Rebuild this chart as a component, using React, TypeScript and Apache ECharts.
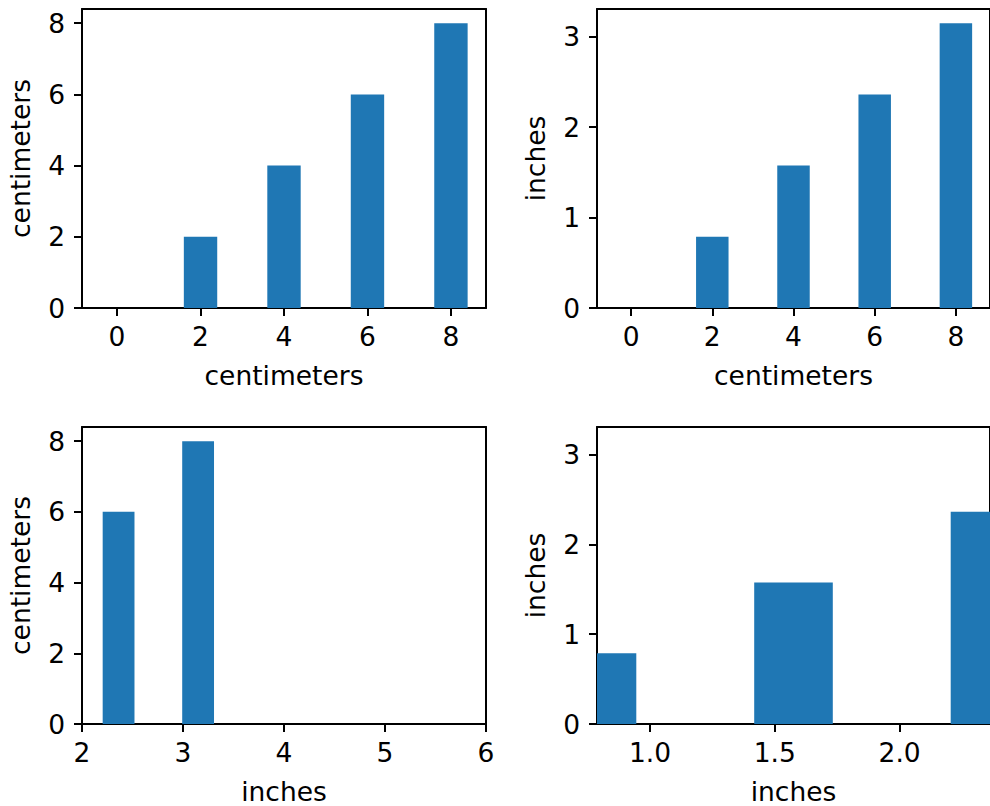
import React, { useEffect, useRef } from "react";
import * as echarts from "echarts";

// Data (in centimeters)
const CM_PER_INCH = 2.54;
const barCentersCm = [0, 2, 4, 6, 8];
const barHeightsCm = [0, 2, 4, 6, 8];
const barWidthCm = 0.8;

// Tick labels
const cmTicks = [0, 2, 4, 6, 8];
const inchYTicks = [0, 1, 2, 3];
const inchXTicksBL = [2, 3, 4, 5, 6];
const inchXTicksBR = [1.0, 1.5, 2.0];

const BLUE = "#1f77b4";
const FONT = "DejaVu Sans";
const FS = 26.5;
const TICK_LEN = 8;

type Unit = "cm" | "inch";
const conv = (v: number, u: Unit) => (u === "cm" ? v : v / CM_PER_INCH);

// matplotlib-like autoscale with 5% margins
function autoX(u: Unit) {
  const lo = Math.min(...barCentersCm.map((c) => c - barWidthCm / 2));
  const hi = Math.max(...barCentersCm.map((c) => c + barWidthCm / 2));
  const m = (hi - lo) * 0.05;
  return [conv(lo - m, u), conv(hi + m, u)];
}
function autoYMax(u: Unit) {
  const hi = Math.max(...barHeightsCm);
  return conv(hi * 1.05, u);
}

interface Panel {
  left: number;
  top: number;
  xUnit: Unit;
  yUnit: Unit;
  xMin: number;
  xMax: number;
  xTicks: number[];
  yTicks: number[];
  xFmt: (v: number) => string;
}

const panels: Panel[] = [
  {
    left: 82, top: 9, xUnit: "cm", yUnit: "cm",
    xMin: autoX("cm")[0], xMax: autoX("cm")[1],
    xTicks: cmTicks, yTicks: cmTicks, xFmt: (v) => String(v),
  },
  {
    left: 597, top: 9, xUnit: "cm", yUnit: "inch",
    xMin: autoX("cm")[0], xMax: autoX("cm")[1],
    xTicks: cmTicks, yTicks: inchYTicks, xFmt: (v) => String(v),
  },
  {
    left: 82, top: 427, xUnit: "inch", yUnit: "cm",
    xMin: 2, xMax: 6,
    xTicks: inchXTicksBL, yTicks: cmTicks, xFmt: (v) => String(v),
  },
  {
    left: 597, top: 427, xUnit: "inch", yUnit: "inch",
    xMin: conv(2, "inch"), xMax: conv(6, "inch"),
    xTicks: inchXTicksBR, yTicks: inchYTicks, xFmt: (v) => v.toFixed(1),
  },
];

const unitName = (u: Unit) => (u === "cm" ? "centimeters" : "inches");

export default function App() {
  const ref = useRef<HTMLDivElement>(null);
  useEffect(() => {
    if (!ref.current) return;
    const chart = echarts.init(ref.current, undefined, { renderer: "svg" });
    const textStyle = { color: "#000", fontFamily: FONT, fontSize: FS };
    const line = { show: true, onZero: false, lineStyle: { color: "#000", width: 2 } };
    const tickStyle = { color: "#000", width: 2 };
    const grid = panels.map((p) => ({
      left: p.left,
      top: p.top,
      width: 404,
      height: 299,
      show: false,
    }));
    const xAxis: any[] = [];
    const yAxis: any[] = [];
    panels.forEach((p, i) => {
      xAxis.push({
        type: "value",
        gridIndex: i,
        position: "bottom",
        min: p.xMin,
        max: p.xMax,
        name: unitName(p.xUnit),
        nameLocation: "middle",
        nameGap: 54,
        nameMoveOverlap: false,
        nameTextStyle: textStyle,
        axisLine: line,
        splitLine: { show: false },
        axisTick: { show: true, length: TICK_LEN, customValues: p.xTicks, lineStyle: tickStyle },
        axisLabel: {
          ...textStyle,
          margin: 15,
          customValues: p.xTicks,
          formatter: (v: number) => p.xFmt(v),
        },
      });
      yAxis.push({
        type: "value",
        gridIndex: i,
        position: "left",
        min: 0,
        max: autoYMax(p.yUnit),
        name: unitName(p.yUnit),
        nameLocation: "middle",
        nameGap: 48,
        nameMoveOverlap: false,
        nameTextStyle: textStyle,
        axisLine: line,
        splitLine: { show: false },
        axisTick: { show: true, length: TICK_LEN, customValues: p.yTicks, lineStyle: tickStyle },
        axisLabel: {
          ...textStyle,
          margin: 17,
          customValues: p.yTicks,
          formatter: (v: number) => String(v),
        },
      });
    });
    // frame: top and right spines
    panels.forEach((p, i) => {
      xAxis.push({
        type: "value", gridIndex: i, position: "top", min: p.xMin, max: p.xMax,
        axisLine: line, axisTick: { show: false }, axisLabel: { show: false },
        splitLine: { show: false },
      });
      yAxis.push({
        type: "value", gridIndex: i, position: "right", min: 0, max: autoYMax(p.yUnit),
        axisLine: line, axisTick: { show: false }, axisLabel: { show: false },
        splitLine: { show: false },
      });
    });
    const series = panels.map((p, i) => ({
      type: "custom",
      xAxisIndex: i,
      yAxisIndex: i,
      data: barCentersCm.map((c, k) => [
        conv(c, p.xUnit),
        conv(barHeightsCm[k], p.yUnit),
        conv(barWidthCm, p.xUnit),
      ]),
      renderItem: (params: any, api: any) => {
        const x = api.value(0);
        const h = api.value(1);
        const w = api.value(2);
        const p0 = api.coord([x - w / 2, 0]);
        const p1 = api.coord([x + w / 2, h]);
        const shape = echarts.graphic.clipRectByRect(
          { x: p0[0], y: p1[1], width: p1[0] - p0[0], height: p0[1] - p1[1] },
          {
            x: params.coordSys.x,
            y: params.coordSys.y,
            width: params.coordSys.width,
            height: params.coordSys.height,
          }
        );
        if (!shape) return null;
        return { type: "rect", shape, style: { fill: BLUE } };
      },
    }));
    chart.setOption({
      animation: false,
      backgroundColor: "#fff",
      grid,
      xAxis,
      yAxis,
      series,
    } as any);
    return () => chart.dispose();
  }, []);
  return (
    <div
      ref={ref}
      style={{ position: "fixed", left: 0, top: 0, width: 990, height: 806 }}
    />
  );
}
